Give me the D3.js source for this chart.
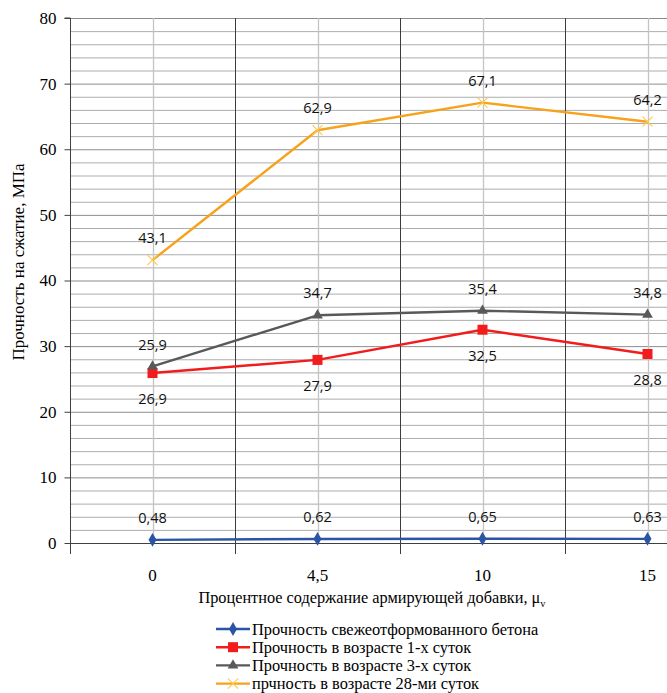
<!DOCTYPE html>
<html>
<head>
<meta charset="utf-8">
<script src="https://cdn.jsdelivr.net/npm/d3@7"></script>
<style>
  html, body { margin: 0; padding: 0; background: #fff; overflow: hidden; }
  svg { display: block; }
</style>
</head>
<body>
<svg id="chart" width="667" height="693"></svg>
<script>
// Fibre content categories (x axis) and compressive strength series, MPa
const categories = ["0", "4,5", "10", "15"];
const freshValues = [0.48, 0.62, 0.65, 0.63];
const day1Values = [25.9, 27.9, 32.5, 28.8];
const day3Values = [26.9, 34.7, 35.4, 34.8];
const day28Values = [43.1, 62.9, 67.1, 64.2];
const yTicks = [0, 10, 20, 30, 40, 50, 60, 70, 80];
const seriesNames = [
  "Прочность свежеотформованного бетона",
  "Прочность в возрасте 1-х суток",
  "Прочность в возрасте 3-х суток",
  "прчность в возрасте 28-ми суток"
];

const series = [
  { name: seriesNames[0], values: freshValues, color: "#2A54A6", marker: "diamond", labelPos: ["above", "above", "above", "above"] },
  { name: seriesNames[1], values: day1Values, color: "#F21C1C", marker: "square", labelPos: ["aboveHigh", "below", "below", "below"] },
  { name: seriesNames[2], values: day3Values, color: "#595959", marker: "triangle", labelPos: ["belowLow", "above", "above", "above"] },
  { name: seriesNames[3], values: day28Values, color: "#F7A21B", marker: "cross", labelPos: ["above", "above", "above", "above"] }
];

const svg = d3.select("#chart");
const plot = { left: 70, top: 18, bottom: 543, right: 730 };

const x = d3.scaleBand().domain(categories).range([plot.left, plot.right]).padding(0);
const y = d3.scaleLinear().domain([0, 80]).range([plot.bottom, plot.top]);
const cx = c => x(c) + x.bandwidth() / 2;

// Horizontal grid every 2 MPa
const gridG = svg.append("g");
gridG.selectAll("line.h")
  .data(d3.range(2, 81, 2))
  .join("line")
  .attr("x1", plot.left).attr("x2", 667)
  .attr("y1", d => y(d) + 0.5).attr("y2", d => y(d) + 0.5)
  .attr("stroke", d => d % 10 === 0 ? "#8c8c8c" : "#adadad")
  .attr("stroke-width", 1);

// Light vertical lines through each category
gridG.selectAll("line.vc")
  .data(categories)
  .join("line")
  .attr("x1", d => Math.round(cx(d)) + 0.5).attr("x2", d => Math.round(cx(d)) + 0.5)
  .attr("y1", plot.top).attr("y2", plot.bottom)
  .attr("stroke", "#c4c4c4").attr("stroke-width", 1.3);

// Dark vertical lines between categories, extending down as tick marks
gridG.selectAll("line.vb")
  .data(categories.slice(1))
  .join("line")
  .attr("x1", d => Math.round(x(d)) + 0.5).attr("x2", d => Math.round(x(d)) + 0.5)
  .attr("y1", plot.top).attr("y2", plot.bottom + 11)
  .attr("stroke", "#3c3c3c").attr("stroke-width", 1);

// Y axis
const yAxis = d3.axisLeft(y).tickValues(yTicks).tickSize(6).tickPadding(8);
const yg = svg.append("g").attr("transform", `translate(${plot.left + 0.5},0)`).call(yAxis);
yg.select(".domain").attr("stroke", "#404040").attr("d", `M-6,${plot.top}H0V${plot.bottom + 11}`);
yg.selectAll(".tick line").attr("stroke", "#404040");
yg.selectAll(".tick text")
  .attr("font-family", "'Liberation Serif', 'Times New Roman', serif")
  .attr("font-size", 17).attr("fill", "#000");

// X axis baseline
svg.append("line")
  .attr("x1", plot.left).attr("x2", 667)
  .attr("y1", plot.bottom + 0.5).attr("y2", plot.bottom + 0.5)
  .attr("stroke", "#404040");

// X tick labels
svg.append("g").selectAll("text")
  .data(categories)
  .join("text")
  .attr("x", d => cx(d)).attr("y", 581)
  .attr("text-anchor", "middle")
  .attr("font-family", "'Liberation Serif', 'Times New Roman', serif")
  .attr("font-size", 17)
  .text(d => d);

// Axis titles
svg.append("text")
  .attr("transform", "translate(24,262) rotate(-90)")
  .attr("text-anchor", "middle")
  .attr("font-family", "'Liberation Serif', 'Times New Roman', serif")
  .attr("font-size", 17)
  .text("Прочность на сжатие, МПа");

const xt = svg.append("text")
  .attr("x", 372).attr("y", 603)
  .attr("text-anchor", "middle")
  .attr("font-family", "'Liberation Serif', 'Times New Roman', serif")
  .attr("font-size", 16.3);
xt.append("tspan").text("Процентное содержание армирующей добавки, μ");
xt.append("tspan").attr("font-size", 10.5).attr("dy", 4).text("v");

// Marker shapes
function drawMarker(g, type, color) {
  if (type === "diamond") {
    g.append("path").attr("d", d3.symbol(d3.symbolDiamond, 55)()).attr("fill", color);
  } else if (type === "square") {
    g.append("rect").attr("x", -5).attr("y", -5).attr("width", 10).attr("height", 10).attr("fill", color);
  } else if (type === "triangle") {
    g.append("path").attr("d", d3.symbol(d3.symbolTriangle, 50)()).attr("fill", color);
  } else if (type === "cross") {
    g.append("path").attr("d", "M-5,-5L5,5M-5,5L5,-5").attr("stroke", "#FFC84A").attr("stroke-width", 1.1).attr("fill", "none");
  }
}

const line = d3.line().x((d, i) => cx(categories[i])).y(d => y(d));

series.forEach(s => {
  svg.append("path")
    .datum(s.values)
    .attr("d", line)
    .attr("fill", "none")
    .attr("stroke", s.color)
    .attr("stroke-width", 2.4)
    .attr("stroke-linejoin", "round");
});

series.forEach(s => {
  s.values.forEach((v, i) => {
    const g = svg.append("g").attr("transform", `translate(${cx(categories[i])},${y(v)})`);
    drawMarker(g, s.marker, s.color);
  });
});

// Value labels
const fmt = v => String(v).replace(".", ",");
const labelOffset = { above: -17, below: 31, aboveHigh: -23, belowLow: 38 };
series.forEach(s => {
  s.values.forEach((v, i) => {
    svg.append("text")
      .attr("x", cx(categories[i]))
      .attr("y", y(v) + labelOffset[s.labelPos[i]])
      .attr("text-anchor", "middle")
      .attr("font-family", "'Open Sans', 'Liberation Sans', sans-serif")
      .attr("font-size", 14.5)
      .attr("fill", "#111")
      .text(fmt(v));
  });
});

// Legend
const legend = svg.append("g").attr("transform", "translate(216,629)");
series.forEach((s, i) => {
  const row = legend.append("g").attr("transform", `translate(0,${i * 18.2})`);
  row.append("line").attr("x1", 0).attr("x2", 34).attr("y1", 0).attr("y2", 0)
    .attr("stroke", s.color).attr("stroke-width", 2.4);
  const m = row.append("g").attr("transform", "translate(17,0)");
  drawMarker(m, s.marker, s.color);
  row.append("text")
    .attr("x", 36).attr("y", 5.5)
    .attr("font-family", "'Liberation Serif', 'Times New Roman', serif")
    .attr("font-size", 16.4)
    .text(s.name);
});
</script>
</body>
</html>
